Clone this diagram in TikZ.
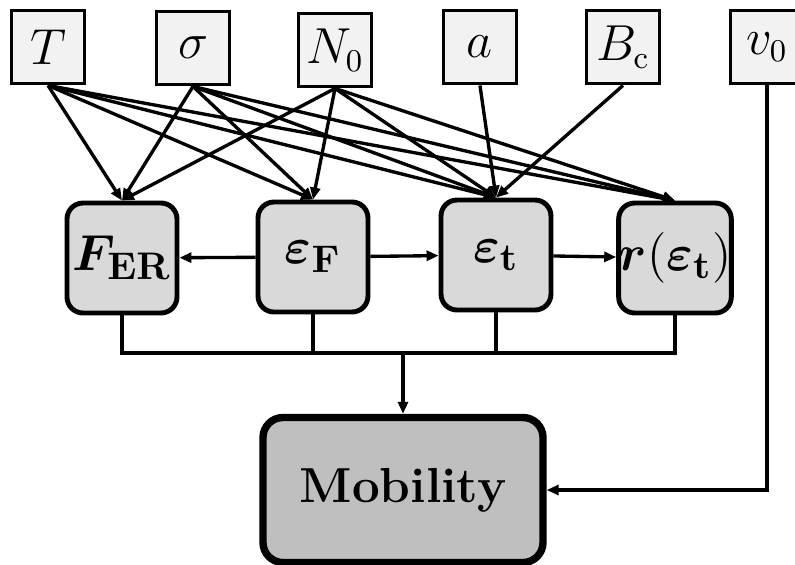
\documentclass[tikz,border=0pt]{standalone}
\usepackage{amsmath,bm}
\usetikzlibrary{arrows.meta}
\begin{document}
\begin{tikzpicture}[x=0.1mm, y=-0.1mm,
    param/.style = {draw, line width=1.1pt, fill=gray!10, minimum width=7.3mm,
        minimum height=7.3mm, inner sep=0pt, font=\fontsize{13.5}{15}\selectfont},
    stage/.style = {draw, line width=1.4pt, fill=gray!30, rounded corners=1.6mm,
        minimum width=11mm, minimum height=11mm, inner sep=0pt,
        font=\fontsize{15}{17}\selectfont},
    result/.style = {draw, line width=2.1pt, fill=gray!50, rounded corners=2mm,
        minimum width=28mm, minimum height=14.5mm,
        font=\bfseries\fontsize{14}{16}\selectfont},
    link/.style = {-{Triangle[length=1.2mm,width=1.0mm]}, line width=0.95pt}]

    \useasboundingbox (0,0) rectangle (795,564);

    % Eingangsgroessen
    \node [param] (T)     at (48,47)  {$T$};
    \node [param] (sigma) at (193,48) {$\sigma$};
    \node [param] (N0)    at (335,50) {$N_0$};
    \node [param] (a)     at (480,47) {$a$};
    \node [param] (Bc)    at (623,47) {$B_{\mathrm{c}}$};
    \node [param] (v0)    at (767,47) {$v_0$};

    % Zwischengroessen
    \node [stage] (FER)  at (122,258) {$\bm{F}_{\mathbf{ER}}$};
    \node [stage] (epsF) at (313,257) {$\bm{\varepsilon}_{\mathbf{F}}$};
    \node [stage] (epst) at (496,255) {$\bm{\varepsilon}_{\mathbf{t}}$};
    \node [stage] (reps) at (675,258) {$\bm{r}(\bm{\varepsilon}_{\mathbf{t}})$};

    % Ergebnis
    \node [result] (mob) at (403,490) {Mobility};

    % Pfeile von oben
    \foreach \src in {T, sigma, N0}
        \foreach \dst in {FER, epsF, epst, reps}
            \draw [link] (\src.south) -- (\dst.north);
    \draw [link] (a.south) -- (epst.north);
    \draw [link] (Bc.south) -- (epst.north);

    % Mitte
    \draw [link] (epsF) -- (FER);
    \draw [link] (epsF) -- (epst);
    \draw [link] (epst) -- (reps);

    % Sammelschiene nach unten
    \coordinate (bus) at (403,353);
    \draw [line width=0.95pt] (FER.south) |- (bus) -| (reps.south);
    \draw [line width=0.95pt] (epsF.south) -- (epsF.south |- bus);
    \draw [line width=0.95pt] (epst.south) -- (epst.south |- bus);
    \draw [link] (bus) -- (mob.north);
    \draw [link] (v0.south) |- (mob.east);
\end{tikzpicture}
\end{document}
